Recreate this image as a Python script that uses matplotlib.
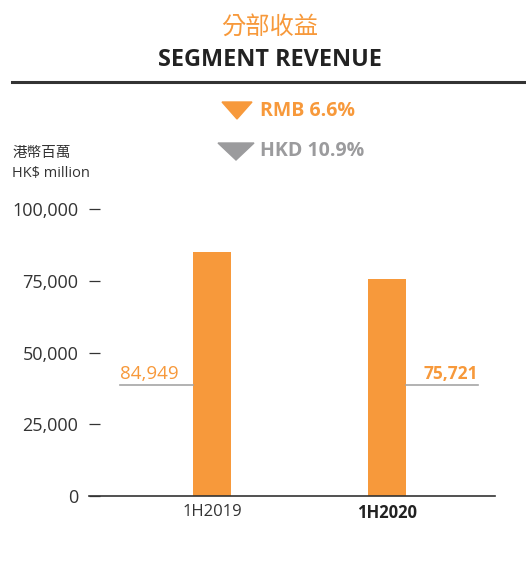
import matplotlib.pyplot as plt
from matplotlib.patches import Polygon

plt.rcParams['font.family'] = ['Open Sans', 'Noto Sans CJK TC', 'DejaVu Sans']

# data
periods = ["1H2019", "1H2020"]
revenue = [84949, 75721]
value_labels = ["84,949", "75,721"]
yticks = [0, 25000, 50000, 75000, 100000]
ytick_labels = ["0", "25,000", "50,000", "75,000", "100,000"]
changes = ["RMB 6.6%", "HKD 10.9%"]

orange = '#F7993B'
grey = '#9B9B9D'
dark = '#222222'

fig = plt.figure(figsize=(5.26, 5.73), dpi=100)

# titles
fig.text(0.513, 0.953, '分部收益', color=orange, fontsize=17.5, ha='center', va='center',
         family=['Noto Sans CJK TC', 'DejaVu Sans'])
fig.text(0.513, 0.896, 'SEGMENT REVENUE', color=dark, fontsize=16.8, fontweight='bold',
         ha='center', va='center')
fig.add_artist(plt.Line2D([0.023, 1.0], [0.857, 0.857], color='#333333', lw=2.2,
                          transform=fig.transFigure))

# change indicators
tri_specs = [(222, 252, 102, 119, orange), (218, 254, 143, 160, grey)]
for (x0, x1, y0, y1, c), txt in zip(tri_specs, changes):
    W, H = 526, 573
    pts = [(x0 / W, 1 - y0 / H), (x1 / W, 1 - y0 / H), ((x0 + x1) / 2 / W, 1 - y1 / H)]
    fig.add_artist(Polygon(pts, closed=True, color=c, transform=fig.transFigure))
    fig.text(260 / W, 1 - (y0 + y1) / 2 / H, txt, color=c, fontsize=14, fontweight='bold',
             ha='left', va='center')

# units
fig.text(0.023, 0.733, '港幣百萬', color='#333333', fontsize=10.5, ha='left', va='center',
         family=['Noto Sans CJK TC', 'DejaVu Sans'])
fig.text(0.023, 0.697, 'HK$ million', color='#333333', fontsize=10.5, ha='left', va='center')

ax = fig.add_axes([0.169, 0.1344, 0.772, 0.5007])
x = [0, 1]
w = 0.218
ax.bar(x, revenue, width=w, color=orange, zorder=2)
ax.set_xlim(-0.705, 1.621)
ax.set_ylim(0, 100000)

for s in ['top', 'right', 'left']:
    ax.spines[s].set_visible(False)
ax.spines['bottom'].set_color('#333333')
ax.spines['bottom'].set_linewidth(1.2)

ax.set_yticks(yticks)
ax.set_yticklabels(ytick_labels)
ax.tick_params(axis='y', direction='in', length=8, width=0.9, color='#333333',
               pad=7.5, labelsize=13, labelcolor='#333333')
ax.set_xticks(x)
ax.set_xticklabels(periods)
ax.tick_params(axis='x', length=0, pad=6, labelsize=12, labelcolor='#333333')
ax.get_xticklabels()[1].set_fontweight('bold')
ax.get_xticklabels()[1].set_color(dark)

# value labels with leader lines
line_y = 38700
seg = 0.415
ax.plot([x[0] - w / 2 - seg, x[0] - w / 2], [line_y, line_y], color='#A5A5A5', lw=1.2)
ax.text(x[0] - w / 2 - seg, line_y + 800, value_labels[0], color=orange, fontsize=13.5,
        ha='left', va='bottom')
ax.plot([x[1] + w / 2, x[1] + w / 2 + seg], [line_y, line_y], color='#A5A5A5', lw=1.2)
ax.text(x[1] + w / 2 + seg, line_y + 800, value_labels[1], color=orange, fontsize=12.5,
        fontweight='bold', ha='right', va='bottom')

fig.savefig('out.png', dpi=100)
